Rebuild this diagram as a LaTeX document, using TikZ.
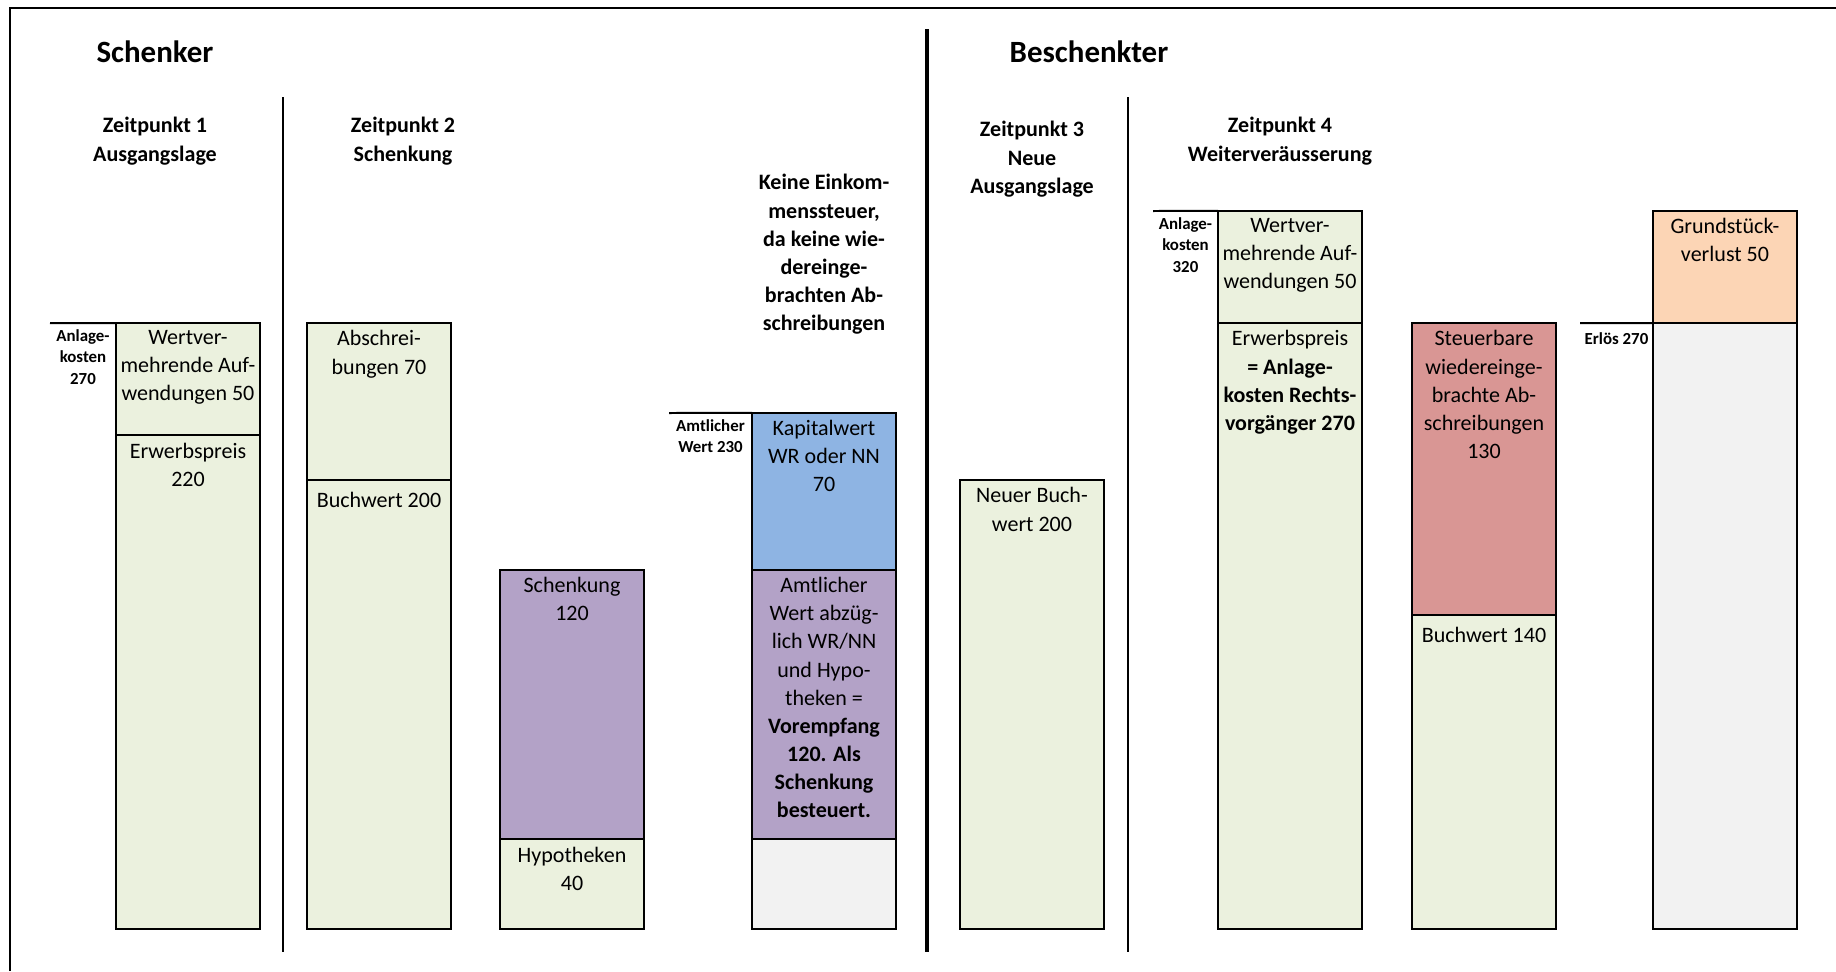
\documentclass[tikz,border=0pt]{standalone}
\usepackage{fontspec}
\setmainfont{Carlito}
\usetikzlibrary{positioning}

\definecolor{gruen}{HTML}{EBF1DE}
\definecolor{lila}{HTML}{B3A2C7}
\definecolor{blau}{HTML}{8EB4E3}
\definecolor{grau}{HTML}{F2F2F2}
\definecolor{rot}{HTML}{D99694}
\definecolor{pfirsich}{HTML}{FCD5B5}

% one unit of value (CHF) as a length
\newcommand\vu{0.033667cm}

\tikzset{
  seg/.style={draw, line width=0.85pt, minimum width=2.16cm, inner sep=0pt, outer sep=0pt, anchor=south west},
  segtxt/.style={anchor=north, align=center, inner sep=1.5pt, yshift=-1.5pt, font=\fontsize{9.4}{12}\selectfont, execute at begin node=\strut},
  head/.style={anchor=north, align=center, inner sep=1.5pt, yshift=-1.5pt, font=\fontsize{9.4}{12}\selectfont\bfseries, execute at begin node=\strut},
  kosten/.style={anchor=north, align=center, inner sep=1.5pt, yshift=-0.8pt, font=\fontsize{7.2}{9.2}\selectfont\bfseries, execute at begin node=\strut},
  titel/.style={font=\fontsize{13.2}{16}\selectfont\bfseries},
  marke/.style={line width=0.85pt},
}

\begin{document}
\begin{tikzpicture}[x=0.015cm, y=-0.015cm]
  \useasboundingbox (0,0) rectangle (1836,971);

  % frame and dividers
  \draw[line width=1pt] (10,971) -- (10,8) -- (1836,8);
  \draw[line width=1.6pt] (927,29) -- (927,952);
  \foreach \xd in {283,1128}{
    \draw[line width=0.85pt] (\xd,97) -- (\xd,952);
  }

  \node[titel] (schenker) at (155,52) {Schenker};
  \node[titel] (beschenkter) at (1089,52) {Beschenkter};

  \node[head] (zp1) at (155,110) {Zeitpunkt 1\\Ausgangslage};
  \node[head] (zp2) at (403,110) {Zeitpunkt 2\\Schenkung};
  \node[head] (keine) at (824,167) {Keine Einkom-\\menssteuer,\\da keine wie-\\dereinge-\\brachten Ab-\\schreibungen};
  \node[head] (zp3) at (1032,114) {Zeitpunkt 3\\Neue\\Ausgangslage};
  \node[head] (zp4) at (1280,110) {Zeitpunkt 4\\Weiterveräusserung};

  % Zeitpunkt 1
  \node[seg, fill=gruen, minimum height=220*\vu] (b1a) at (116,929) {};
  \node[seg, fill=gruen, minimum height=50*\vu] (b1b) at (b1a.north west) {};
  \node[segtxt] (t1a) at (b1a.north) {Erwerbspreis\\220};
  \node[segtxt] (t1b) at (b1b.north) {Wertver-\\mehrende Auf-\\wendungen 50};
  \coordinate (k1) at (50,323);
  \draw[marke] (k1) -- (b1b.north west) node[kosten, midway] (l1) {Anlage-\\kosten\\270};

  % Zeitpunkt 2
  \node[seg, fill=gruen, minimum height=200*\vu] (b2a) at (307,929) {};
  \node[seg, fill=gruen, minimum height=70*\vu] (b2b) at (b2a.north west) {};
  \node[segtxt] (t2a) at (b2a.north) {Buchwert 200};
  \node[segtxt] (t2b) at (b2b.north) {Abschrei-\\bungen 70};

  \node[seg, fill=gruen, minimum height=40*\vu] (b3a) at (500,929) {};
  \node[seg, fill=lila, minimum height=120*\vu] (b3b) at (b3a.north west) {};
  \node[segtxt] (t3a) at (b3a.north) {Hypotheken\\40};
  \node[segtxt] (t3b) at (b3b.north) {Schenkung\\120};

  \node[seg, fill=grau, minimum height=40*\vu] (b4a) at (752,929) {};
  \node[seg, fill=lila, minimum height=120*\vu] (b4b) at (b4a.north west) {};
  \node[seg, fill=blau, minimum height=70*\vu] (b4c) at (b4b.north west) {};
  \node[segtxt] (t4b) at (b4b.north) {Amtlicher\\Wert abzüg-\\lich WR/NN\\und Hypo-\\theken =\\\textbf{Vorempfang}\\\textbf{120. Als}\\\textbf{Schenkung}\\\textbf{besteuert.}};
  \node[segtxt] (t4c) at (b4c.north) {Kapitalwert\\WR oder NN\\70};
  \coordinate (k4) at (669,413);
  \draw[marke] (k4) -- (b4c.north west) node[kosten, midway] (l4) {Amtlicher\\Wert 230};

  % Zeitpunkt 3
  \node[seg, fill=gruen, minimum height=200*\vu] (b5a) at (960,929) {};
  \node[segtxt] (t5a) at (b5a.north) {Neuer Buch-\\wert 200};

  % Zeitpunkt 4
  \node[seg, fill=gruen, minimum height=270*\vu] (b6a) at (1218,929) {};
  \node[seg, fill=gruen, minimum height=50*\vu] (b6b) at (b6a.north west) {};
  \node[segtxt] (t6a) at (b6a.north) {Erwerbspreis\\\textbf{= Anlage-}\\\textbf{kosten Rechts-}\\\textbf{vorgänger 270}};
  \node[segtxt] (t6b) at (b6b.north) {Wertver-\\mehrende Auf-\\wendungen 50};
  \coordinate (k6) at (1153,211);
  \draw[marke] (k6) -- (b6b.north west) node[kosten, midway] (l6) {Anlage-\\kosten\\320};

  \node[seg, fill=gruen, minimum height=140*\vu] (b7a) at (1412,929) {};
  \node[seg, fill=rot, minimum height=130*\vu] (b7b) at (b7a.north west) {};
  \node[segtxt] (t7a) at (b7a.north) {Buchwert 140};
  \node[segtxt] (t7b) at (b7b.north) {Steuerbare\\wiedereinge-\\brachte Ab-\\schreibungen\\130};

  \node[seg, fill=grau, minimum height=270*\vu] (b8a) at (1653,929) {};
  \node[seg, fill=pfirsich, minimum height=50*\vu] (b8b) at (b8a.north west) {};
  \node[segtxt] (t8b) at (b8b.north) {Grundstück-\\verlust 50};
  \coordinate (k8) at (1580,323);
  \draw[marke] (k8) -- (b8a.north west) node[kosten, midway] (l8) {Erlös 270};
\end{tikzpicture}
\end{document}
